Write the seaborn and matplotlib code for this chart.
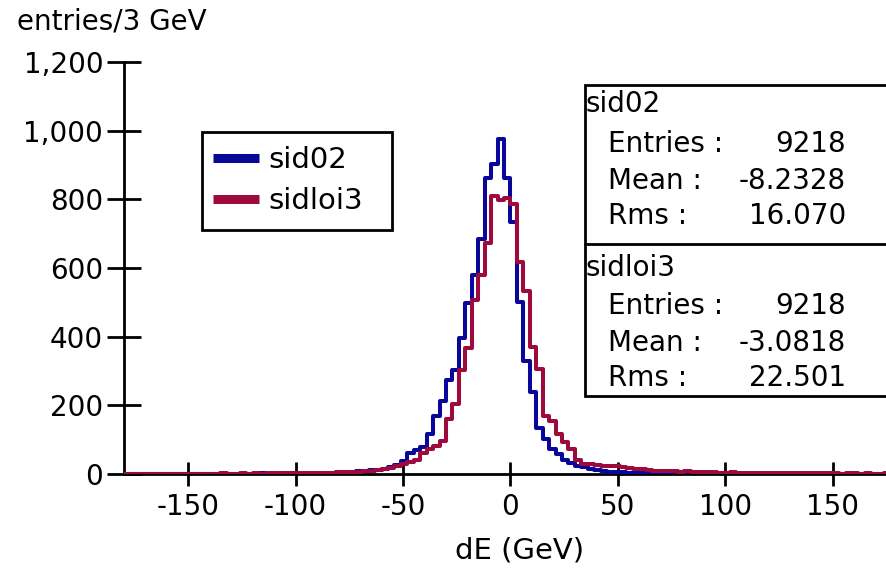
import numpy as np
import pandas as pd
import matplotlib
matplotlib.use("Agg")
import matplotlib.pyplot as plt
import seaborn as sns
from matplotlib.ticker import FuncFormatter
from matplotlib.lines import Line2D
from matplotlib.patches import Rectangle

# ---- data: entries per 3 GeV bin, bins from -180 to 180 ----
bin_left_edges = list(range(-180, 180, 3))

sid02_counts = [
    # -180 .. -123
    0, 1, 0, 0, 1, 0, 1, 0, 0, 1, 0, 1, 1, 0, 1, 1, 0, 1, 1, 1,
    # -120 .. -93
    1, 2, 1, 2, 2, 1, 2, 3, 2, 3,
    # -90 .. -51
    3, 3, 4, 5, 6, 7, 8, 10, 11, 13, 16, 20, 27, 38,
    # -48 .. -3
    60, 70, 80, 117, 170, 214, 275, 304, 395, 498, 579, 685, 863, 903, 977, 863,
    # 0 .. 57
    733, 502, 330, 239, 135, 101, 74, 58, 41, 32, 24, 19, 14, 11, 9, 7, 6, 5, 4, 4,
    # 60 .. 117
    3, 3, 3, 2, 2, 2, 2, 1, 2, 1, 1, 1, 1, 1, 0, 1, 1, 0, 1, 0,
    # 120 .. 177
    1, 0, 0, 1, 0, 0, 1, 0, 0, 0, 1, 0, 0, 0, 1, 0, 0, 0, 0, 0,
]

sidloi3_counts = [
    # -180 .. -123
    1, 0, 1, 1, 0, 1, 1, 0, 1, 1, 1, 0, 1, 1, 1, 2, 1, 1, 2, 1,
    # -120 .. -93
    2, 1, 2, 2, 2, 3, 2, 3, 3, 3,
    # -90 .. -51
    3, 4, 4, 5, 5, 6, 7, 8, 10, 12, 14, 18, 22, 28,
    # -48 .. -3
    36, 41, 60, 72, 82, 97, 159, 203, 302, 366, 507, 579, 673, 810, 797, 803,
    # 0 .. 57
    787, 618, 534, 370, 306, 169, 155, 116, 94, 72, 40, 30, 28, 26, 24, 24, 22, 20, 18, 16,
    # 60 .. 117
    14, 12, 10, 10, 9, 8, 7, 8, 6, 5, 6, 5, 4, 4, 5, 3, 4, 3, 3, 4,
    # 120 .. 177
    3, 2, 3, 2, 3, 2, 2, 3, 2, 2, 2, 1, 2, 2, 1, 2, 1, 1, 2, 1,
]

series_names = ["sid02", "sidloi3"]
series_colors = ["#08079a", "#9c0a3e"]
stats = {
    "sid02": ("9218", "-8.2328", "16.070"),
    "sidloi3": ("9218", "-3.0818", "22.501"),
}

x_ticks = [-150, -100, -50, 0, 50, 100, 150]
y_ticks = [0, 200, 400, 600, 800, 1000, 1200]

# ---- build table ----
centers = np.array(bin_left_edges, dtype=float) + 1.5
df = pd.concat([
    pd.DataFrame({"dE": centers, "count": sid02_counts, "sample": "sid02"}),
    pd.DataFrame({"dE": centers, "count": sidloi3_counts, "sample": "sidloi3"}),
], ignore_index=True)

sns.set_style("white")
plt.rcParams["font.family"] = ["DejaVu Sans"]
plt.rcParams["axes.unicode_minus"] = False
plt.rcParams["text.color"] = "black"

W, H = 887, 569
fig = plt.figure(figsize=(W / 100, H / 100), dpi=100)
ax = fig.add_axes([124 / W, (H - 474) / H, (887 - 124) / W, (474 - 62) / H])

for name, col in zip(series_names, series_colors):
    sub = df[df["sample"] == name]
    sns.histplot(data=sub, x="dE", weights="count", binwidth=3,
                 binrange=(bin_left_edges[0], bin_left_edges[-1] + 3), element="step",
                 fill=False, color=col, linewidth=2.9, ax=ax,
                 zorder=3 if name == "sidloi3" else 2)

ax.set_xlim(-179.9, 175.3)
ax.set_ylim(0, 1200)
ax.set_xticks(x_ticks)
ax.set_yticks(y_ticks)
ax.yaxis.set_major_formatter(FuncFormatter(lambda v, p: f"{int(v):,}"))
ax.set_xlabel("")
ax.set_ylabel("")
for s in ["top", "right"]:
    ax.spines[s].set_visible(False)
for s in ["left", "bottom"]:
    ax.spines[s].set_color("black")
    ax.spines[s].set_linewidth(2.0)
    ax.spines[s].set_zorder(1)
ax.tick_params(axis="x", bottom=True, direction="inout", length=17, width=2.0,
               labelsize=20, pad=5, colors="black", labelcolor="black")
ax.tick_params(axis="y", left=True, direction="inout", length=24, width=2.0,
               labelsize=20, pad=3, colors="black", labelcolor="black")
ax.patch.set_alpha(0)

fig.text(17 / W, 1 - 21 / H, "entries/3 GeV", fontsize=20, ha="left", va="center", color="black")
fig.text(520 / W, 1 - 551 / H, "dE (GeV)", fontsize=21, ha="center", va="center", color="black")

def fx(px):
    return px / W

def fy(py):
    return 1 - py / H

# legend
fig.patches.append(Rectangle((fx(202), fy(230)), fx(392) - fx(202), fy(132) - fy(230),
                             transform=fig.transFigure, fill=True, facecolor="white",
                             edgecolor="black", linewidth=2.0, zorder=4))
handles = [Line2D([0], [0], color=c, lw=6.5, solid_capstyle="butt") for c in series_colors]
leg = fig.legend(handles, series_names, loc="upper left",
                 bbox_to_anchor=(fx(204), fy(137)),
                 fontsize=21, frameon=False, handlelength=1.6,
                 handletextpad=0.3, borderpad=0.3, labelspacing=0.45, borderaxespad=0)
for t in leg.get_texts():
    t.set_color("black")
leg.set_zorder(6)

# statistics box
fig.patches.append(Rectangle((fx(585), fy(396)), fx(900) - fx(585), fy(85) - fy(396),
                             transform=fig.transFigure, fill=True, facecolor="white",
                             edgecolor="black", linewidth=2.0, zorder=5))
fig.lines.append(Line2D([fx(585), fx(900)], [fy(244), fy(244)], transform=fig.transFigure,
                        color="black", linewidth=2.0, zorder=6))

rows = [("sid02", 104, 144, 181, 216), ("sidloi3", 268, 306, 343, 378)]
fs = 20
for name, y0, y1, y2, y3 in rows:
    ent, mean, rms = stats[name]
    kw = dict(fontsize=fs, va="center", zorder=7, color="black")
    fig.text(fx(586), fy(y0), name, ha="left", **kw)
    fig.text(fx(608), fy(y1), "Entries :", ha="left", **kw)
    fig.text(fx(846), fy(y1), ent, ha="right", **kw)
    fig.text(fx(608), fy(y2), "Mean :", ha="left", **kw)
    fig.text(fx(846), fy(y2), mean, ha="right", **kw)
    fig.text(fx(608), fy(y3), "Rms :", ha="left", **kw)
    fig.text(fx(846), fy(y3), rms, ha="right", **kw)

fig.savefig("out.png", dpi=100, facecolor="white")
